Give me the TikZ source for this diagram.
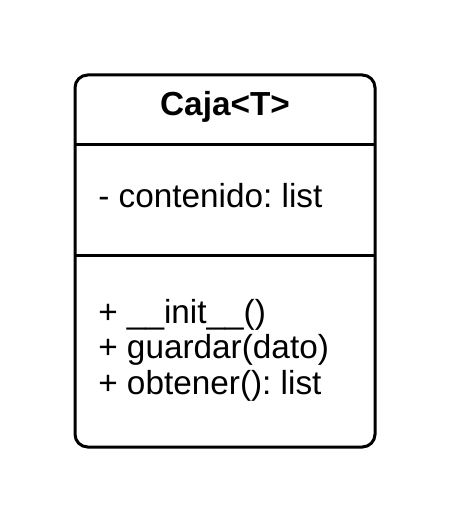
\documentclass[tikz,border=0pt]{standalone}
\usepackage{fontspec}
\setmainfont{Liberation Sans}
\frenchspacing
\begin{document}
\begin{tikzpicture}[x=0.75pt,y=-0.75pt,
  umlbox/.style={draw=black,line width=2.25pt,rounded corners=9.5pt},
  sep/.style={draw=black,line width=2.25pt},
  txt/.style={anchor=base west,inner sep=0pt,font=\fontsize{25}{30}\selectfont},
  ttl/.style={anchor=base,inner sep=0pt,font=\fontsize{25}{30}\selectfont\bfseries}]
\useasboundingbox (0,0) rectangle (450,523);
\path[umlbox] (75,75) rectangle (375,447);
\coordinate (l1a) at (75,145); \coordinate (l1b) at (375,145);
\coordinate (l2a) at (75,256); \coordinate (l2b) at (375,256);
\draw[sep] (l1a) -- (l1b);
\draw[sep] (l2a) -- (l2b);
\node[ttl] (title) at (225,116) {Caja<T>};
\node[txt] (attr) at (98,208) {- contenido: list};
\node[txt] (m1) at (98,323) {+ \_\_init\_\_()};
\node[txt] (m2) at (98,358) {+ guardar(dato)};
\node[txt] (m3) at (98,394) {+ obtener(): list};
\end{tikzpicture}
\end{document}
